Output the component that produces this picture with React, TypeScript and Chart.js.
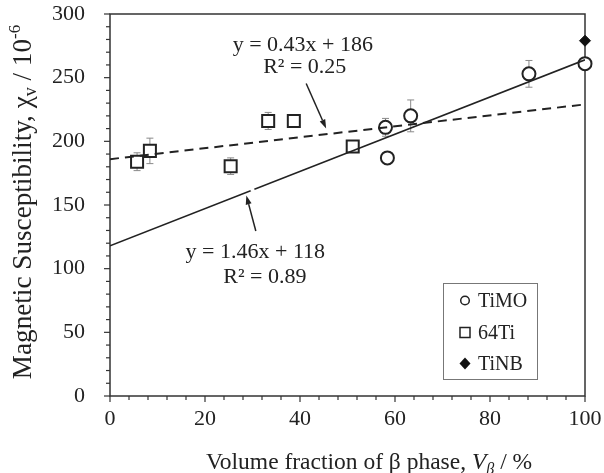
import React, { useEffect, useRef } from 'react';
import { Chart, registerables } from 'chart.js';
Chart.register(...registerables);

const FONT = '"Liberation Serif", "Times New Roman", Times, serif';
const INK = '#222';

// ---- data ----
const timoX = [58.0, 58.4, 63.3, 88.2, 100];
const timoY = [211, 187, 220, 253, 261];
const timoErr = [7, null, 12.5, 10.5, null];

const ti64X = [5.7, 8.4, 25.4, 33.3, 38.7, 51.1];
const ti64Y = [184, 192.5, 180.5, 216, 216, 196];
const ti64Err = [7, 10, 6.5, 6.7, null, null];

const tinbX = [100];
const tinbY = [279];

const fitAllX = [0, 100];
const fitAllY = [118, 264];
const fit64X = [0, 100];
const fit64Y = [186, 229];

const xTickValues = [0, 20, 40, 60, 80, 100];
const yTickValues = [0, 50, 100, 150, 200, 250, 300];

const legendLabels = ['TiMO', '64Ti', 'TiNB'];

const pts = (xs: number[], ys: number[]) => xs.map((x, i) => ({ x, y: ys[i] }));

const errBars = [
  { xs: timoX, ys: timoY, es: timoErr },
  { xs: ti64X, ys: ti64Y, es: ti64Err },
];

function line(ctx: CanvasRenderingContext2D, x1: number, y1: number, x2: number, y2: number) {
  ctx.beginPath();
  ctx.moveTo(x1, y1);
  ctx.lineTo(x2, y2);
  ctx.stroke();
}

function arrow(ctx: CanvasRenderingContext2D, x1: number, y1: number, x2: number, y2: number) {
  const ang = Math.atan2(y2 - y1, x2 - x1);
  const hl = 9, hw = 3;
  const bx = x2 - hl * Math.cos(ang), by = y2 - hl * Math.sin(ang);
  ctx.strokeStyle = INK;
  ctx.lineWidth = 1.5;
  line(ctx, x1, y1, bx, by);
  ctx.fillStyle = INK;
  ctx.beginPath();
  ctx.moveTo(x2, y2);
  ctx.lineTo(bx + hw * Math.sin(ang), by - hw * Math.cos(ang));
  ctx.lineTo(bx - hw * Math.sin(ang), by + hw * Math.cos(ang));
  ctx.closePath();
  ctx.fill();
}

type Seg = { t: string; size?: number; italic?: boolean; dy?: number };
function richText(ctx: CanvasRenderingContext2D, segs: Seg[], cx: number, baseline: number, base = 22) {
  const fontOf = (s: Seg) => `${s.italic ? 'italic ' : ''}${s.size ?? base}px ${FONT}`;
  let total = 0;
  const widths = segs.map((s) => {
    ctx.font = fontOf(s);
    const w = ctx.measureText(s.t).width;
    total += w;
    return w;
  });
  let x = cx - total / 2;
  ctx.textAlign = 'left';
  ctx.textBaseline = 'alphabetic';
  segs.forEach((s, i) => {
    ctx.font = fontOf(s);
    ctx.fillText(s.t, x, baseline + (s.dy ?? 0));
    x += widths[i];
  });
}

const decor = {
  id: 'decor',
  beforeDatasetsDraw(chart: any) {
    const { ctx, chartArea: a, scales } = chart;
    const xs = scales.x, ys = scales.y;
    ctx.save();
    ctx.strokeStyle = '#333';
    ctx.lineWidth = 1.5;
    ctx.strokeRect(a.left, a.top, a.right - a.left, a.bottom - a.top);
    ctx.lineWidth = 1.2;
    for (let v = 0; v <= 300; v += 10) {
      const py = ys.getPixelForValue(v);
      const len = v % 50 === 0 ? 6 : 4;
      line(ctx, a.left - len, py, a.left, py);
    }
    for (let v = 0; v <= 100; v += 4) {
      const px = xs.getPixelForValue(v);
      const len = v % 20 === 0 ? 6 : 4;
      line(ctx, px, a.bottom, px, a.bottom + len);
    }
    // error bars
    ctx.strokeStyle = '#8a8a8a';
    ctx.lineWidth = 1;
    errBars.forEach(({ xs: X, ys: Y, es }) => {
      X.forEach((xv, i) => {
        const e = es[i];
        if (e == null) return;
        const px = xs.getPixelForValue(xv);
        const p1 = ys.getPixelForValue(Y[i] + e);
        const p2 = ys.getPixelForValue(Y[i] - e);
        line(ctx, px, p1, px, p2);
        line(ctx, px - 3.5, p1, px + 3.5, p1);
        line(ctx, px - 3.5, p2, px + 3.5, p2);
      });
    });
    ctx.restore();
  },
  afterDraw(chart: any) {
    const { ctx, chartArea: a, scales } = chart;
    const X = (v: number) => scales.x.getPixelForValue(v);
    const Y = (v: number) => scales.y.getPixelForValue(v);
    ctx.save();
    ctx.fillStyle = INK;
    // equations
    richText(ctx, [{ t: 'y = 0.43x + 186' }], X(40.6), Y(271));
    richText(ctx, [{ t: 'R² = 0.25' }], X(41.0), Y(253.7));
    richText(ctx, [{ t: 'y = 1.46x + 118' }], X(30.6), Y(108.4));
    richText(ctx, [{ t: 'R² = 0.89' }], X(32.6), Y(88.5));
    // small white gap in the solid line beside the lower arrow tip
    ctx.strokeStyle = '#fff';
    ctx.lineWidth = 3;
    line(ctx, X(29.6), Y(118 + 1.46 * 29.6), X(30.4), Y(118 + 1.46 * 30.4));
    // arrows
    arrow(ctx, X(41.3), Y(245.4), X(45.5), Y(210.1));
    arrow(ctx, X(30.7), Y(129.6), X(28.7), Y(157.5));

    // legend
    const bx = a.right - 142, by = a.bottom - 113, bw = 94, bh = 96;
    ctx.fillStyle = '#fff';
    ctx.fillRect(bx, by, bw, bh);
    ctx.strokeStyle = '#777';
    ctx.lineWidth = 1;
    ctx.strokeRect(bx + 0.5, by + 0.5, bw, bh);
    const rows = [by + 24, by + 56, by + 87];
    const mx = bx + 22;
    ctx.font = `20px ${FONT}`;
    ctx.textAlign = 'left';
    ctx.textBaseline = 'alphabetic';
    legendLabels.forEach((lab, i) => {
      const cy = rows[i] - 6.5;
      ctx.strokeStyle = INK;
      ctx.lineWidth = 1.5;
      ctx.fillStyle = '#fff';
      ctx.beginPath();
      if (i === 0) {
        ctx.arc(mx, cy, 4.3, 0, Math.PI * 2);
        ctx.fill();
        ctx.stroke();
      } else if (i === 1) {
        ctx.rect(mx - 5, cy - 5, 10, 10);
        ctx.fill();
        ctx.stroke();
      } else {
        ctx.fillStyle = '#111';
        ctx.moveTo(mx, cy - 6);
        ctx.lineTo(mx + 5.5, cy);
        ctx.lineTo(mx, cy + 6);
        ctx.lineTo(mx - 5.5, cy);
        ctx.closePath();
        ctx.fill();
      }
      ctx.fillStyle = INK;
      ctx.fillText(lab, bx + 35, rows[i]);
    });

    // axis titles
    ctx.fillStyle = INK;
    richText(
      ctx,
      [
        { t: 'Volume fraction of β phase, ' },
        { t: 'V', italic: true },
        { t: 'β', italic: true, size: 16, dy: 5 },
        { t: ' / %' },
      ],
      369,
      469,
      23.5
    );
    ctx.translate(31, 202);
    ctx.rotate(-Math.PI / 2);
    richText(
      ctx,
      [
        { t: 'Magnetic Susceptibility, χ' },
        { t: 'v', size: 18, dy: 5 },
        { t: ' / 10' },
        { t: '-6', size: 17, dy: -11 },
      ],
      0,
      0,
      27.2
    );
    ctx.restore();
  },
};

export default function App() {
  const ref = useRef<HTMLCanvasElement | null>(null);
  useEffect(() => {
    if (!ref.current) return;
    const chart = new Chart(ref.current, {
      type: 'scatter',
      data: {
        datasets: [
          {
            label: 'fit all',
            data: pts(fitAllX, fitAllY),
            showLine: true,
            pointRadius: 0,
            borderColor: INK,
            borderWidth: 1.6,
            order: 0,
          },
          {
            label: 'fit 64Ti',
            data: pts(fit64X, fit64Y),
            showLine: true,
            pointRadius: 0,
            borderColor: INK,
            borderWidth: 2,
            borderDash: [9, 6],
            order: 0,
          },
          {
            label: legendLabels[0],
            data: pts(timoX, timoY),
            pointStyle: 'circle',
            pointRadius: 6.5,
            borderWidth: 2,
            borderColor: INK,
            backgroundColor: '#fff',
            clip: false,
            order: 1,
          },
          {
            label: legendLabels[1],
            data: pts(ti64X, ti64Y),
            pointStyle: 'rect',
            pointRadius: 8.5,
            borderWidth: 2,
            borderColor: INK,
            backgroundColor: '#fff',
            clip: false,
            order: 1,
          },
          {
            label: legendLabels[2],
            data: pts(tinbX, tinbY),
            pointStyle: 'rectRot',
            pointRadius: 5.5,
            borderWidth: 1,
            borderColor: '#111',
            backgroundColor: '#111',
            clip: false,
            order: 1,
          },
        ],
      },
      options: {
        animation: false,
        responsive: true,
        maintainAspectRatio: false,
        events: [],
        layout: { padding: { top: 14, right: 19, left: 0, bottom: 0 } },
        plugins: { legend: { display: false }, tooltip: { enabled: false } },
        scales: {
          x: {
            type: 'linear',
            min: 0,
            max: 100,
            afterBuildTicks: (s: any) => {
              s.ticks = xTickValues.map((value) => ({ value }));
            },
            afterFit: (s: any) => {
              s.height = 77;
              s.paddingLeft = 0;
              s.paddingRight = 0;
              s.paddingTop = 0;
              s.paddingBottom = 0;
            },
            grid: { display: false, drawTicks: false },
            border: { display: false },
            ticks: { color: INK, font: { family: FONT, size: 22 }, padding: 10, maxRotation: 0 },
          },
          y: {
            type: 'linear',
            min: 0,
            max: 300,
            afterBuildTicks: (s: any) => {
              s.ticks = yTickValues.map((value) => ({ value }));
            },
            afterFit: (s: any) => {
              s.width = 110;
              s.paddingLeft = 0;
              s.paddingRight = 0;
              s.paddingTop = 0;
              s.paddingBottom = 0;
            },
            grid: { display: false, drawTicks: false },
            border: { display: false },
            ticks: { color: INK, font: { family: FONT, size: 22 }, padding: 25 },
          },
        },
      },
      plugins: [decor],
    });
    return () => chart.destroy();
  }, []);
  return (
    <div style={{ position: 'fixed', left: 0, top: 0, width: 604, height: 473, background: '#fff' }}>
      <canvas ref={ref} />
    </div>
  );
}
